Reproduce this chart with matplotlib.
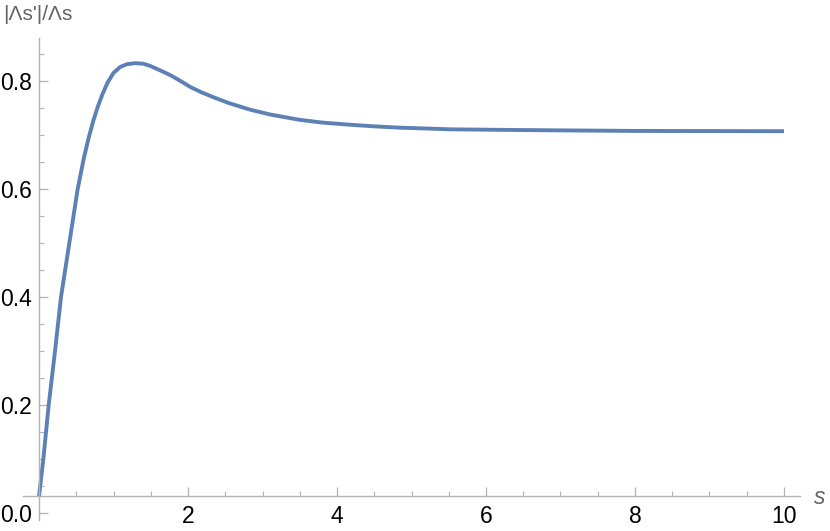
import matplotlib
matplotlib.use("Agg")
import matplotlib.pyplot as plt
from matplotlib.ticker import FixedLocator

# Data
s_vals = [0.0, 0.058, 0.13, 0.215, 0.295, 0.407, 0.519, 0.6, 0.667, 0.73,
          0.788, 0.85, 0.92, 1.0, 1.09, 1.18, 1.29, 1.4, 1.49, 1.62,
          1.76, 1.9, 2.03, 2.18, 2.34, 2.55, 2.83, 3.1, 3.5, 3.8,
          4.17, 4.5, 4.85, 5.2, 5.52, 6.2, 6.86, 8.0, 10.0]
ratio_vals = [0.031, 0.1, 0.2, 0.3, 0.4, 0.5, 0.6, 0.656, 0.695, 0.727,
              0.752, 0.775, 0.797, 0.815, 0.826, 0.831, 0.833, 0.832, 0.828, 0.820,
              0.811, 0.800, 0.789, 0.779, 0.770, 0.759, 0.747, 0.738, 0.728, 0.723,
              0.719, 0.716, 0.7135, 0.712, 0.7105, 0.7095, 0.7087, 0.7075, 0.707]
x_ticks = [2, 4, 6, 8, 10]
x_tick_labels = ["2", "4", "6", "8", "10"]
y_ticks = [0.0, 0.2, 0.4, 0.6, 0.8]
y_tick_labels = ["0.0", "0.2", "0.4", "0.6", "0.8"]
y_label = "|Λs'|/Λs"
x_label = "s"

W, H = 830, 531
fig = plt.figure(figsize=(W / 100, H / 100), dpi=100)
ax = fig.add_axes([23 / W, 11 / H, (800 - 23) / W, (520 - 38) / H])

axis_color = "#b3b3b3"
line_color = "#5e81b5"

ax.plot(s_vals, ratio_vals, color=line_color, lw=2.8, solid_capstyle="butt",
        solid_joinstyle="round", clip_on=False)

ax.set_xlim(-0.215, 10.215)
ax.set_ylim(-0.013, 0.8796)

for side in ("top", "right"):
    ax.spines[side].set_visible(False)
ax.spines["left"].set_position(("data", 0))
ax.spines["bottom"].set_position(("data", ratio_vals[0]))
for side in ("left", "bottom"):
    ax.spines[side].set_color(axis_color)
    ax.spines[side].set_linewidth(1.0)

ax.xaxis.set_major_locator(FixedLocator(x_ticks))
ax.set_xticklabels(x_tick_labels)
ax.xaxis.set_minor_locator(FixedLocator([0.5 * i for i in range(1, 21) if i % 4 != 0]))
ax.yaxis.set_major_locator(FixedLocator(y_ticks))
ax.set_yticklabels(y_tick_labels)
ax.yaxis.set_minor_locator(FixedLocator([0.05 * i for i in range(0, 18) if i % 4 != 0]))

font = "Liberation Sans"
ax.tick_params(axis="both", which="both", direction="in", color=axis_color,
               labelsize=16.5, labelcolor="black")
ax.tick_params(axis="both", which="major", length=6.5, width=0.9)
ax.tick_params(axis="both", which="minor", length=3.8, width=0.8)
ax.tick_params(axis="x", which="major", pad=6.5)
ax.tick_params(axis="y", which="major", pad=5)
for lab in ax.get_xticklabels() + ax.get_yticklabels():
    lab.set_fontfamily(font)

fig.text(3 / W, 1 - 15 / H, y_label, ha="left", va="center", fontsize=15,
         color="#646464", family=font)
fig.text(814 / W, 1 - 497 / H, x_label, ha="left", va="center", fontsize=16.5,
         color="#646464", family=font, style="italic")

fig.savefig("out.png", dpi=100)
